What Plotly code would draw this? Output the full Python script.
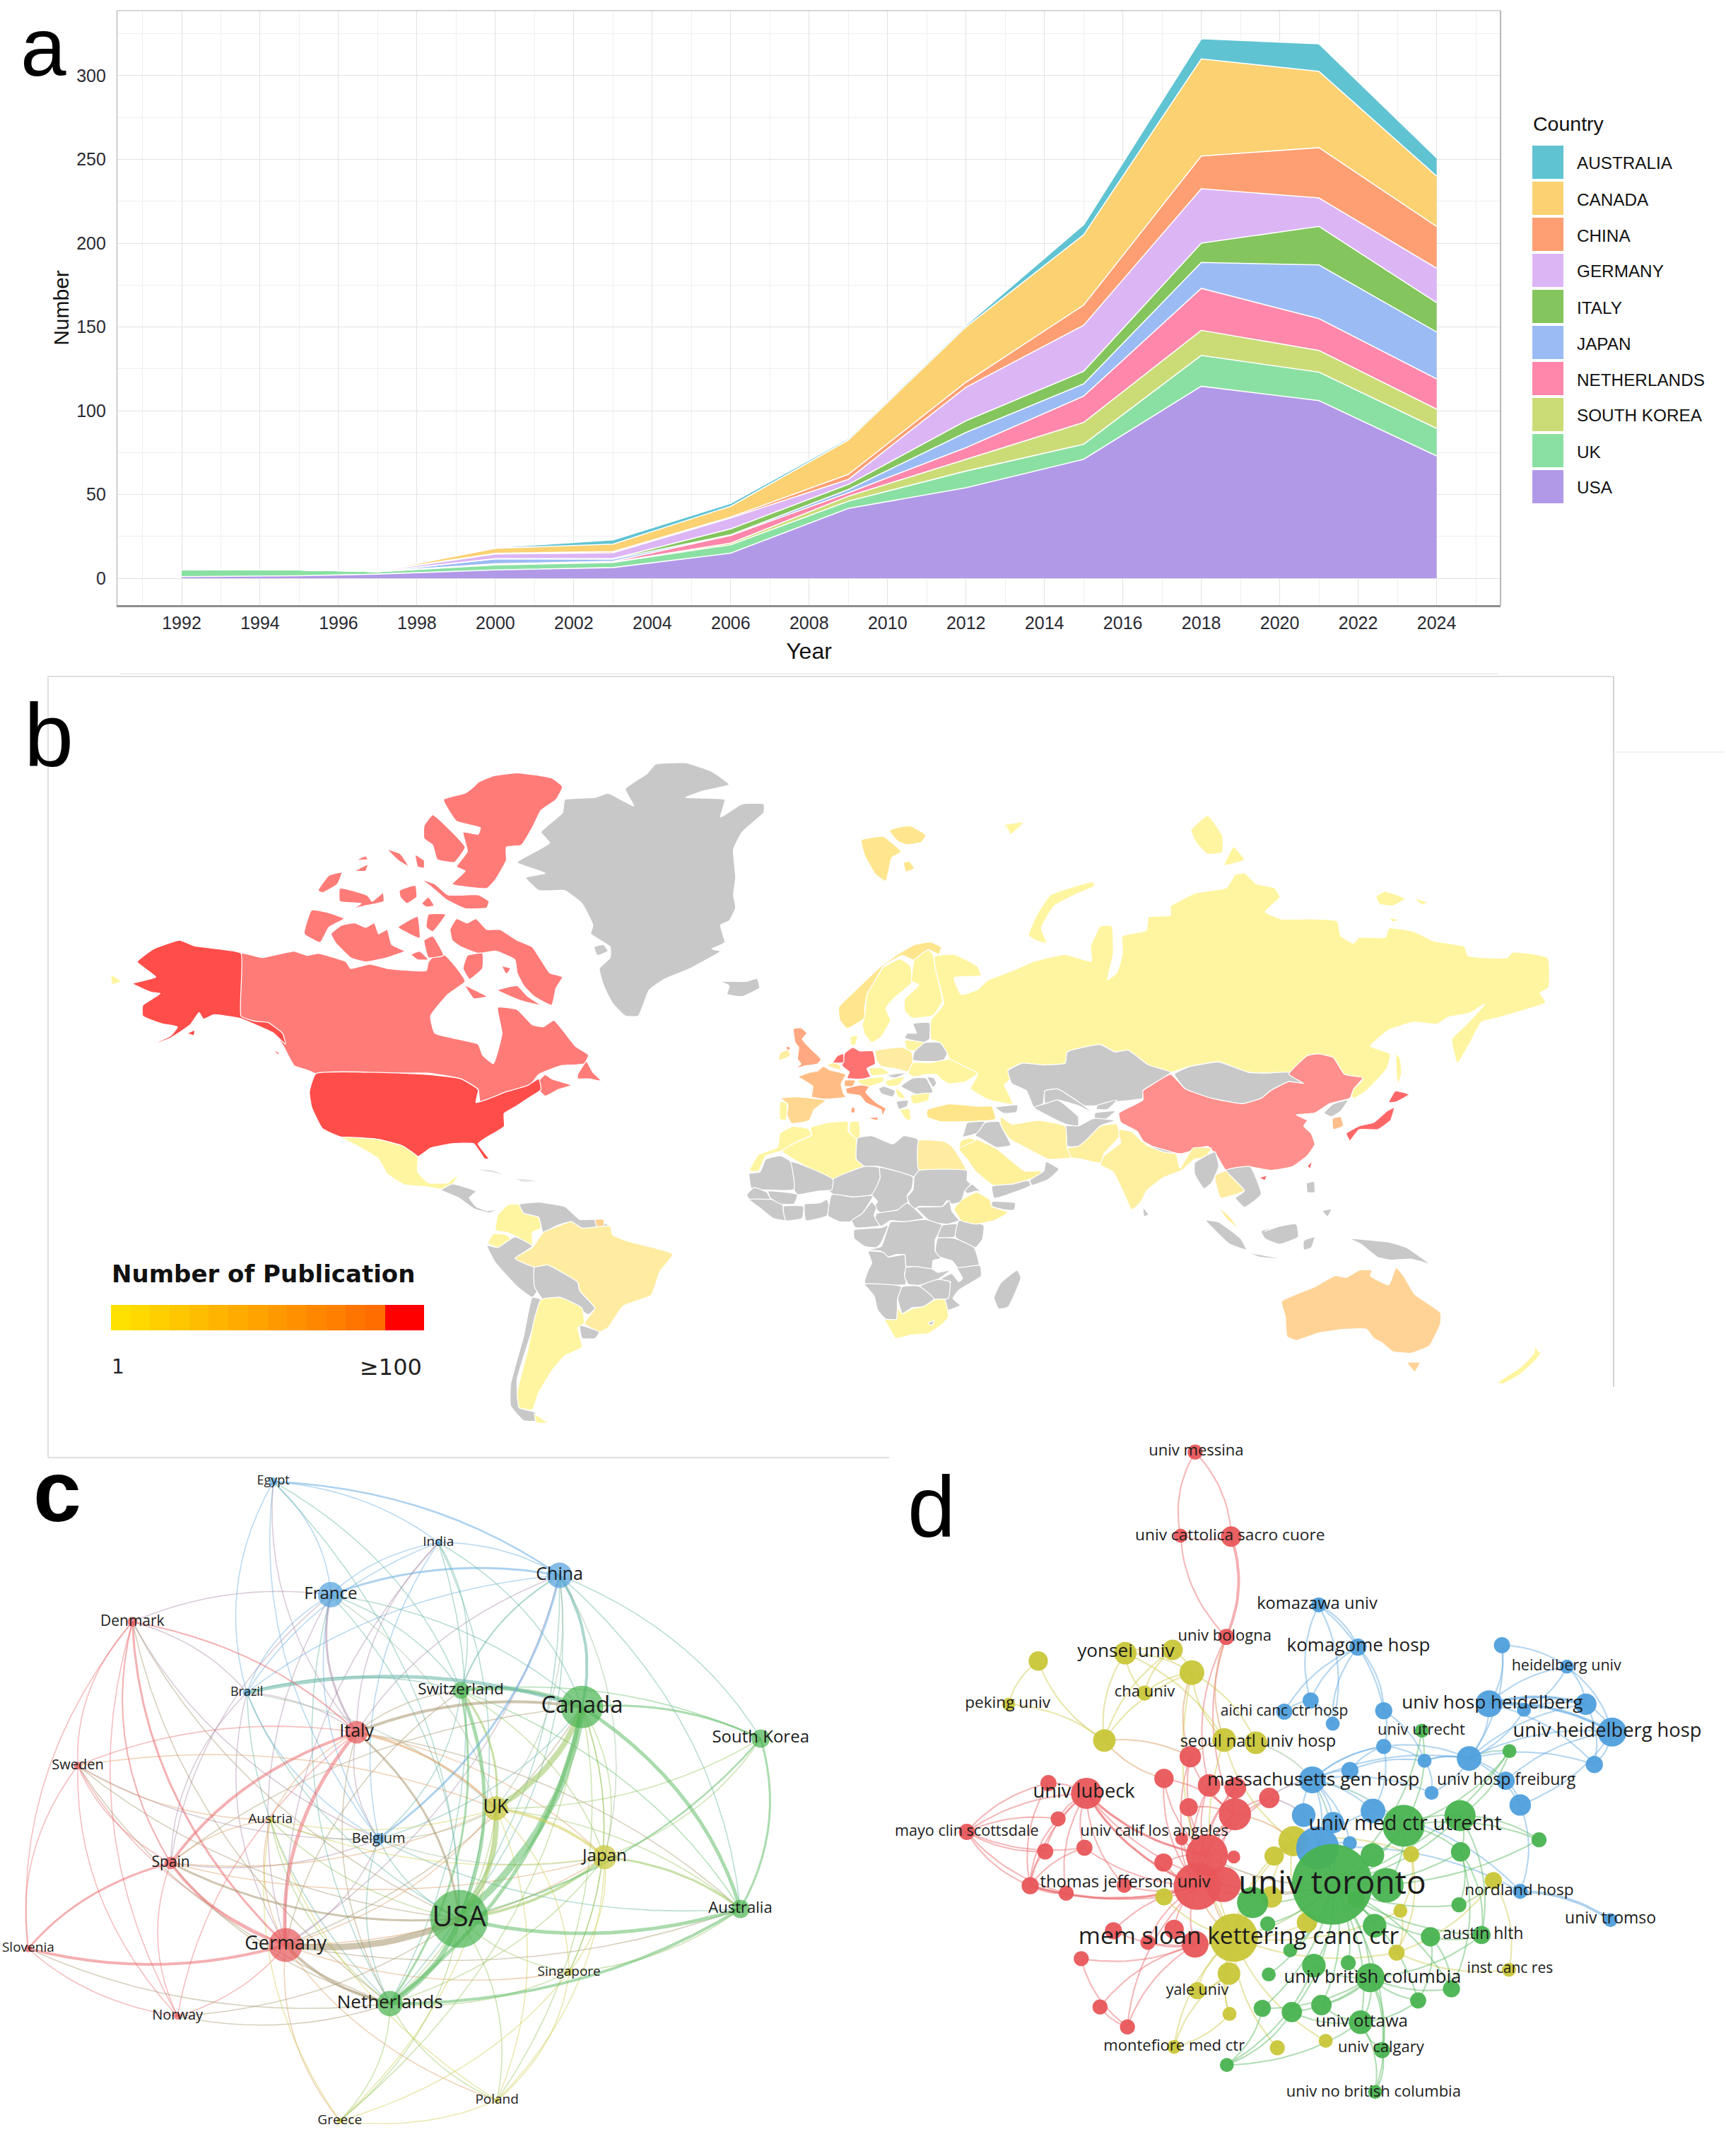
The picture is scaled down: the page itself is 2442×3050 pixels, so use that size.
import numpy as np
import plotly.graph_objects as go

W, H = 2442, 3050

# ---- panel a data
years = [1992, 1995, 1997, 2000, 2003, 2006, 2009, 2012, 2015, 2018, 2021, 2024]
usa = [1, 1.5, 2.5, 5, 6.4, 15, 41.7, 54, 71, 114.6, 106, 73]
uk = [4, 3.5, 1.5, 3, 3, 5, 4.3, 10, 9, 18.4, 17, 16.5]
south_korea = [0, 0, 0, 0.3, 0.2, 1, 3, 7, 13, 15, 13, 11.5]
netherlands = [0, 0, 0, 0.4, 0.5, 4.6, 2, 7, 15.7, 25, 19, 18]
japan = [0, 0, 0, 3, 1.3, 0.4, 2, 9, 7.3, 15.5, 32, 28]
italy = [0, 0, 0, 0, 0.3, 3.5, 3, 7, 7.5, 11.5, 23, 17.5]
germany = [0, 0, 0.3, 2.8, 3.5, 6.5, 3, 20, 27.5, 32.5, 17, 20.5]
china = [0, 0, 0, 0.4, 0.7, 0.5, 3, 3, 12, 19.5, 30, 25]
canada = [0, 0, 0, 3, 4.5, 6.5, 20.5, 33, 42, 58, 45.5, 30]
australia = [0, 0, 0, 0.4, 2.5, 1.7, 0.9, 1, 6, 12, 16.5, 11]
area_series = [("USA", usa, "#b199e8"), ("UK", uk, "#8ae0a2"), ("SOUTH KOREA", south_korea, "#cbdc76"),
               ("NETHERLANDS", netherlands, "#fe87ab"), ("JAPAN", japan, "#9bbbf4"), ("ITALY", italy, "#84c55e"),
               ("GERMANY", germany, "#dcb5f5"), ("CHINA", china, "#fd9f72"), ("CANADA", canada, "#fbd171"),
               ("AUSTRALIA", australia, "#60c3d2")]

C_US, C_CA, C_GR, C_PALE = "#ff4d4a", "#ff7b78", "#c8c8c8", "#fff5a0"
C_YEL, C_CN, C_AU, C_JP = "#ffeca0", "#ff8f8c", "#ffd396", "#ff6668"
AMER = (150, 1070, 960 / 1568)
EURO = (1050, 1150, 1 / 3)
AFRI = (1040, 1500, 1 / 3)
ASIA = (1400, 1130, 820 / 1568)
FULL = (0, 0, 1)
map_shapes = [
    # Americas
    (C_GR, AMER, [(1200,75),(1250,40),(1270,18),(1340,15),(1400,35),(1440,65),(1380,80),(1340,95),(1430,100),(1420,140),(1470,110),(1520,110),(1520,130),(1470,175),(1450,215),(1455,280),(1450,320),(1455,350),(1440,380),(1420,390),(1430,430),(1400,445),(1420,450),(1350,490),(1290,515),(1255,540),(1230,600),(1200,600),(1170,570),(1150,530),(1140,490),(1165,465),(1165,440),(1120,410),(1125,390),(1100,340),(1060,310),(1000,310),(970,280),(1015,270),(950,245),(1025,200),(1005,175),(1055,130),(1060,100),(1130,95),(1160,85),(1190,100),(1220,115)]),
    (C_GR, AMER, [(1420,520),(1450,520),(1480,520),(1505,513),(1510,535),(1470,555),(1435,550),(1440,530)]),
    (C_GR, AMER, [(1128,440),(1150,435),(1160,450),(1135,460)]),
    (C_CA, AMER, [(312,455),(360,465),(435,450),(465,460),(490,455),(555,475),(565,490),(610,480),(650,490),(740,495),(745,475),(770,450),(790,465),(815,495),(830,520),(790,550),(750,600),(760,640),(860,665),(870,690),(895,710),(915,640),(905,580),(950,585),(985,620),(1010,625),(1035,610),(1085,670),(1115,690),(1105,710),(1050,715),(1000,735),(975,765),(925,775),(865,800),(860,770),(820,745),(745,732),(485,733),(465,725),(435,715),(410,670),(375,620),(345,612),(312,603)]),
    (C_US, AMER, [(312,455),(260,445),(205,438),(170,425),(110,445),(72,475),(115,510),(62,525),(105,545),(125,548),(85,575),(85,600),(130,618),(165,625),(150,645),(92,672),(150,650),(195,620),(215,592),(225,607),(250,597),(312,606),(350,622),(385,638),(415,665),(408,640),(375,615),(345,612),(312,600)]),
    (C_US, AMER, [(188,640),(205,633),(203,645)]),
    (C_CA, AMER, [(1000,750),(1015,735),(1030,745),(1075,760),(1045,770),(1015,785),(1000,770)]),
    (C_CA, AMER, [(1090,735),(1110,705),(1125,730),(1145,750),(1115,745),(1090,745)]),
    (C_CA, AMER, [(388,680),(398,683),(400,692)]),
    (C_CA, AMER, [(795,400),(810,375),(835,385),(855,375),(880,400),(910,400),(950,425),(985,440),(1005,470),(1025,500),(1055,510),(1040,535),(1030,575),(990,555),(965,530),(950,500),(945,470),(900,450),(860,455),(820,440),(800,425)]),
    (C_CA, AMER, [(835,460),(870,455),(870,490),(840,515),(825,490)]),
    (C_CA, AMER, [(830,530),(880,555),(850,560)]),
    (C_CA, AMER, [(915,485),(935,490),(925,503)]),
    (C_CA, AMER, [(905,540),(950,530),(975,555),(1005,575),(960,565)]),
    (C_CA, AMER, [(860,60),(895,45),(950,38),(1030,50),(1055,70),(1040,100),(1005,125),(985,165),(960,205),(925,210),(925,240),(900,285),(880,305),(800,295),(830,265),(810,255),(835,220),(825,175),(860,180),(865,165),(810,150),(780,100),(830,85),(850,70)]),
    (C_CA, AMER, [(755,135),(790,165),(830,210),(805,245),(765,238),(755,205),(735,190),(735,160)]),
    (C_CA, AMER, [(650,215),(680,225),(700,255),(675,240)]),
    (C_CA, AMER, [(715,228),(735,240),(735,258),(720,255)]),
    (C_CA, AMER, [(578,240),(600,230),(605,238),(585,240)]),
    (C_CA, AMER, [(575,265),(605,250),(600,265)]),
    (C_CA, AMER, [(490,310),(515,275),(545,268),(535,295),(500,315)]),
    (C_CA, AMER, [(540,305),(570,310),(605,322),(615,335),(640,315),(642,335),(600,345),(570,352),(590,340),(540,335)]),
    (C_CA, AMER, [(678,310),(715,298),(718,325),(695,340),(680,325)]),
    (C_CA, AMER, [(730,285),(760,295),(790,320),(860,320),(885,335),(880,350),(830,352),(785,330),(750,300)]),
    (C_CA, AMER, [(730,340),(745,325),(758,345),(740,348)]),
    (C_CA, AMER, [(458,410),(475,355),(510,360),(550,375),(515,395),(495,430)]),
    (C_CA, AMER, [(520,410),(545,390),(575,385),(600,395),(620,385),(630,410),(650,400),(660,435),(690,450),(650,465),(600,475),(565,465),(530,430)]),
    (C_CA, AMER, [(675,395),(720,370),(725,420),(700,410)]),
    (C_CA, AMER, [(745,365),(785,365),(755,405),(740,395)]),
    (C_CA, AMER, [(735,425),(755,415),(780,460),(745,465)]),
    (C_CA, AMER, [(705,458),(725,450),(745,470),(720,470)]),
    (C_US, AMER, [(485,733),(745,735),(820,745),(860,770),(855,800),(925,775),(975,760),(1000,745),(1005,770),(975,790),(945,810),(920,825),(920,855),(880,880),(860,895),(885,930),(875,930),(850,895),(800,895),(750,905),(720,925),(685,900),(630,885),(545,880),(500,860),(475,810),(470,775)]),
    (C_PALE, AMER, [(545,880),(630,885),(685,900),(720,925),(720,960),(745,985),(790,985),(815,965),(800,990),(775,1000),(745,995),(690,990),(650,965),(630,930),(590,905)]),
    (C_PALE, AMER, [(12,505),(35,520),(14,527)]),
    (C_GR, AMER, [(775,1002),(800,988),(855,1005),(840,1020),(855,1040),(880,1050),(910,1045),(885,1055),(850,1045),(815,1020)]),
    ("#e2e2e2", AMER, [(850,953),(890,955),(925,968),(880,960)]),
    ("#e2e2e2", AMER, [(945,975),(975,977),(1000,982),(960,983)]),
    (C_PALE, AMER, [(905,1060),(930,1035),(955,1035),(965,1055),(1000,1065),(1005,1090),(985,1100),(985,1130),(950,1110),(925,1100),(900,1095)]),
    (C_PALE, AMER, [(882,1125),(895,1103),(925,1105),(935,1115),(905,1135)]),
    (C_GR, AMER, [(955,1035),(1000,1030),(1060,1040),(1095,1070),(1130,1070),(1165,1085),(1140,1090),(1100,1090),(1075,1075),(1040,1085),(1010,1100),(1000,1065),(965,1055)]),
    ("#ffcf90", AMER, [(1130,1070),(1150,1070),(1150,1087),(1135,1087)]),
    (C_GR, AMER, [(880,1130),(905,1135),(945,1110),(985,1132),(945,1160),(990,1180),(1000,1230),(985,1250),(950,1225),(900,1170)]),
    (C_GR, AMER, [(990,1180),(1020,1175),(1090,1215),(1095,1235),(1130,1275),(1115,1290),(1090,1275),(1050,1250),(1010,1255),(990,1225)]),
    (C_YEL, AMER, [(985,1135),(1010,1100),(1045,1085),(1075,1075),(1100,1090),(1165,1085),(1170,1105),(1205,1120),(1310,1150),(1280,1190),(1260,1245),(1195,1270),(1160,1320),(1140,1330),(1105,1310),(1130,1275),(1095,1235),(1090,1215),(1020,1175),(990,1180),(945,1160)]),
    (C_GR, AMER, [(985,1250),(965,1340),(935,1450),(935,1500),(965,1535),(1000,1535),(990,1515),(955,1505),(950,1440),(980,1340),(1005,1255)]),
    (C_PALE, AMER, [(1005,1255),(1050,1250),(1100,1275),(1105,1310),(1090,1320),(1100,1365),(1060,1385),(1030,1420),(1000,1470),(985,1510),(955,1505),(950,1470),(975,1370),(990,1300)]),
    (C_GR, AMER, [(1095,1315),(1140,1330),(1130,1345),(1100,1345)]),
    (C_PALE, AMER, [(990,1520),(1020,1540),(995,1540)]),
    # Russia
    (C_PALE, FULL, [(1322,1353),(1350,1350),(1383,1367),(1388,1380),(1350,1383),(1360,1407),(1383,1400),(1397,1387),(1433,1373),(1463,1360),(1507,1350),(1544,1360),(1543,1339),(1557,1310),(1573,1310),(1575,1350),(1567,1386),(1580,1376),(1588,1350),(1588,1324),(1622,1316),(1625,1297),(1656,1295),(1656,1282),(1693,1263),(1735,1256),(1748,1237),(1761,1235),(1777,1250),(1803,1256),(1811,1269),(1790,1290),(1813,1300),(1860,1300),(1892,1303),(1897,1324),(1915,1334),(1923,1326),(1960,1326),(1965,1313),(2001,1318),(2028,1331),(2072,1339),(2077,1352),(2132,1355),(2140,1347),(2190,1355),(2191,1397),(2179,1405),(2187,1418),(2122,1439),(2096,1446),(2080,1475),(2062,1504),(2054,1470),(2075,1449),(2101,1420),(2080,1433),(2049,1439),(2033,1449),(2001,1446),(1965,1457),(1939,1480),(1967,1491),(1962,1512),(1933,1543),(1915,1554),(1910,1546),(1928,1527),(1902,1520),(1886,1496),(1865,1491),(1850,1493),(1824,1517),(1792,1518),(1766,1517),(1724,1502),(1682,1509),(1656,1517),(1625,1507),(1596,1486),(1578,1488),(1557,1478),(1510,1488),(1507,1504),(1476,1507),(1447,1504),(1426,1514),(1431,1525),(1421,1535),(1431,1554),(1427,1547),(1433,1562),(1397,1555),(1373,1540),(1383,1520),(1363,1508),(1343,1498),(1340,1490),(1330,1475),(1317,1470),(1317,1443),(1335,1420),(1323,1370)]),
    # Asia
    (C_PALE, ASIA, [(105,370),(130,310),(165,260),(220,240),(280,225),(285,235),(230,260),(175,290),(140,350),(155,390),(130,385)]),
    (C_PALE, ASIA, [(545,85),(590,45),(630,100),(630,145),(590,150),(560,120)]),
    (C_PALE, ASIA, [(635,180),(660,130),(690,165)]),
    (C_PALE, ASIA, [(1045,265),(1070,250),(1125,270),(1090,290),(1055,285)]),
    (C_PALE, ASIA, [(1150,270),(1185,280),(1170,287)]),
    (C_PALE, ASIA, [(1080,322),(1110,328),(1090,332)]),
    (C_PALE, ASIA, [(1100,690),(1110,700),(1115,740),(1105,775),(1100,730)]),
    (C_PALE, ASIA, [(40,70),(90,65),(55,95)]),
    (C_GR, ASIA, [(50,735),(90,715),(145,720),(205,715),(210,685),(300,665),(340,685),(375,680),(430,720),(490,740),(445,770),(415,790),(415,810),(340,820),(290,830),(255,830),(185,785),(150,790),(145,825),(120,835),(100,790),(60,770)]),
    (C_GR, ASIA, [(150,790),(185,785),(255,830),(280,850),(240,830),(185,815),(150,825)]),
    (C_GR, ASIA, [(290,830),(345,815),(320,840),(290,840)]),
    (C_GR, ASIA, [(285,850),(340,845),(310,870),(285,870)]),
    (C_GR, ASIA, [(120,835),(150,825),(185,815),(240,860),(240,885),(205,880)]),
    (C_GR, ASIA, [(205,885),(240,885),(280,865),(340,870),(300,885),(265,920),(240,940),(210,940)]),
    (C_GR, ASIA, [(500,745),(540,725),(620,712),(700,740),(750,742),(810,740),(850,770),(810,765),(760,790),(735,810),(685,825),(600,810),(530,785)]),
    (C_CN, ASIA, [(350,850),(415,815),(415,790),(445,770),(490,745),(530,785),(600,810),(685,825),(735,810),(760,790),(810,765),(850,770),(810,745),(860,695),(890,690),(930,700),(960,745),(1010,755),(985,785),(975,810),(920,825),(880,850),(830,855),(860,870),(850,885),(870,905),(880,935),(860,965),(820,995),(760,1005),(700,995),(640,1005),(615,965),(590,940),(520,960),(470,955),(415,925),(400,900),(355,875)]),
    (C_JP, ASIA, [(860,995),(872,980),(868,1000)]),
    (C_JP, ASIA, [(730,1025),(750,1020),(745,1032)]),
    (C_GR, ASIA, [(905,850),(930,825),(970,815),(950,845),(925,860)]),
    ("#ffbe8a", ASIA, [(928,865),(950,860),(957,885),(930,895)]),
    (C_JP, ASIA, [(965,905),(1000,885),(1040,875),(1075,845),(1095,835),(1085,870),(1050,895),(1000,895),(975,925)]),
    (C_JP, ASIA, [(1098,790),(1135,800),(1100,820),(1080,822)]),
    ("#fff0a0", ASIA, [(345,895),(385,900),(410,925),(470,955),(505,960),(515,1000),(550,945),(600,945),(585,970),(555,975),(520,1005),(470,1025),(425,1060),(410,1090),(385,1112),(360,1060),(335,1010),(300,990),(310,965),(355,930)]),
    ("#fff0a0", ASIA, [(210,945),(240,940),(265,920),(300,885),(345,880),(350,915),(310,960),(300,985),(250,975),(215,970)]),
    ("#fff0a0", ASIA, [(30,860),(60,880),(130,870),(205,885),(210,945),(220,970),(160,975),(100,945),(55,920),(30,885)]),
    (C_GR, ASIA, [(420,935),(510,960),(470,955)]),
    (C_GR, ASIA, [(555,985),(610,955),(620,995),(600,1040),(580,1055),(555,1015)]),
    (C_YEL, ASIA, [(610,1020),(645,1005),(690,1060),(650,1075),(625,1080)]),
    (C_GR, ASIA, [(640,1005),(705,995),(735,1070),(690,1105),(665,1080),(690,1060)]),
    (C_YEL, ASIA, [(620,1105),(650,1130),(675,1165),(640,1135)]),
    (C_GR, ASIA, [(735,1170),(830,1150),(835,1185),(785,1205),(745,1190)]),
    (C_YEL, ASIA, [(745,1170),(800,1150),(835,1130),(810,1145)]),
    (C_GR, ASIA, [(585,1140),(620,1145),(680,1190),(695,1220),(650,1205)]),
    (C_GR, ASIA, [(700,1228),(795,1245),(730,1240)]),
    (C_GR, ASIA, [(850,1195),(880,1185),(870,1215),(850,1220)]),
    (C_GR, ASIA, [(975,1190),(1085,1200),(1130,1215),(1190,1258),(1140,1245),(1085,1248),(1050,1240),(1005,1205)]),
    (C_GR, ASIA, [(858,1040),(878,1035),(880,1065),(860,1065)]),
    (C_GR, ASIA, [(900,1115),(925,1110),(915,1130)]),
    (C_GR, ASIA, [(415,1105),(430,1125),(418,1130)]),
    (C_GR, ASIA, [(12,1350),(30,1310),(75,1275),(85,1295),(50,1375),(25,1380)]),
    (C_AU, ASIA, [(790,1360),(880,1320),(935,1290),(965,1295),(1000,1275),(1035,1275),(1030,1290),(1080,1315),(1100,1268),(1120,1290),(1150,1340),(1220,1390),(1220,1420),(1190,1480),(1140,1500),(1090,1495),(1060,1470),(1040,1460),(1020,1435),(960,1435),(890,1445),(830,1465),(805,1455),(800,1400)]),
    (C_AU, ASIA, [(1130,1525),(1165,1525),(1150,1550)]),
    (C_PALE, FULL, [(2119,1956),(2150,1935),(2170,1915),(2172,1905),(2178,1913),(2182,1912),(2172,1925),(2150,1945),(2125,1958)]),
    # Europe
    ("#ffe68e", EURO, [(505,115),(545,105),(600,100),(675,165),(635,190),(610,290),(565,260),(520,180)]),
    ("#ffe68e", EURO, [(625,75),(665,60),(715,55),(780,95),(760,125),(700,135),(660,120)]),
    ("#ffe68e", EURO, [(685,210),(710,205),(730,235),(695,250)]),
    ("#ffe68e", EURO, [(410,825),(500,735),(590,650),(660,600),(730,560),(800,548),(845,570),(835,600),(790,580),(760,600),(730,625),(680,605),(600,650),(560,720),(530,770),(520,830),(520,870),(445,915),(415,880)]),
    (C_PALE, EURO, [(530,770),(565,710),(600,655),(670,620),(715,650),(720,720),(640,790),(610,830),(630,880),(590,950),(550,975),(520,940),(510,900),(520,860)]),
    (C_PALE, EURO, [(730,625),(760,600),(790,580),(810,600),(820,660),(850,800),(810,860),(720,870),(690,840),(690,790),(750,730),(720,715)]),
    (C_PALE, EURO, [(460,950),(490,945),(480,985),(462,985)]),
    (C_GR, EURO, [(725,895),(795,890),(795,960),(770,975),(690,955),(700,935),(740,935)]),
    (C_PALE, EURO, [(690,965),(770,975),(740,1010),(700,1005)]),
    (C_GR, EURO, [(775,975),(840,975),(870,1020),(855,1050),(800,1055),(725,1050),(730,1015)]),
    (C_YEL, EURO, [(565,1010),(680,995),(720,1015),(725,1065),(715,1100),(650,1085),(590,1075),(570,1050)]),
    ("#ff7272", EURO, [(470,995),(500,1010),(555,1010),(565,1065),(530,1085),(545,1120),(505,1130),(445,1125),(455,1100),(425,1075),(435,1020)]),
    ("#ff6b69", EURO, [(385,1060),(405,1030),(430,1022),(430,1060)]),
    (C_YEL, EURO, [(360,1070),(385,1060),(415,1070),(420,1090),(390,1085)]),
    ("#ffa881", EURO, [(218,915),(250,912),(275,935),(255,960),(290,1000),(335,1045),(320,1065),(260,1075),(225,1085),(250,1065),(235,1045),(240,995),(225,975)]),
    (C_YEL, EURO, [(160,1020),(195,1005),(205,1030),(175,1045),(155,1050)]),
    ("#ffa881", EURO, [(188,990),(205,995),(200,1008),(188,1003)]),
    ("#ffbd85", EURO, [(345,1075),(370,1090),(440,1110),(420,1150),(430,1190),(440,1205),(355,1215),(295,1205),(300,1160),(240,1120),(290,1100),(320,1095)]),
    ("#ffb880", EURO, [(435,1135),(480,1135),(470,1160),(435,1160)]),
    ("#ffa57d", EURO, [(440,1170),(500,1155),(545,1155),(525,1185),(570,1230),(610,1255),(595,1285),(590,1260),(525,1230),(500,1200),(445,1190)]),
    ("#ffa57d", EURO, [(535,1295),(575,1290),(575,1305)]),
    ("#ffa57d", EURO, [(465,1250),(478,1250),(478,1272),(462,1272)]),
    ("#ffd790", EURO, [(165,1210),(230,1205),(355,1220),(305,1260),(285,1305),(210,1318),(190,1280),(195,1240)]),
    (C_PALE, EURO, [(162,1225),(190,1230),(185,1305),(160,1300)]),
    (C_PALE, EURO, [(540,1085),(590,1080),(625,1105),(550,1115)]),
    (C_PALE, EURO, [(490,1135),(545,1125),(600,1120),(600,1140),(540,1160),(500,1150)]),
    (C_GR, EURO, [(615,1115),(660,1105),(695,1105),(650,1125)]),
    (C_PALE, EURO, [(605,1140),(650,1125),(690,1120),(665,1155),(620,1160)]),
    (C_PALE, EURO, [(725,1060),(800,1060),(880,1045),(940,1075),(1000,1105),(950,1140),(880,1150),(850,1135),(825,1110),(780,1110),(725,1120),(705,1105)]),
    (C_GR, EURO, [(675,1160),(725,1125),(780,1125),(810,1185),(740,1195)]),
    (C_GR, EURO, [(785,1120),(815,1125),(825,1150),(810,1165)]),
    (C_GR, EURO, [(580,1170),(600,1160),(650,1180),(640,1205),(590,1190)]),
    (C_PALE, EURO, [(650,1165),(680,1190),(695,1215),(660,1205)]),
    (C_PALE, EURO, [(715,1200),(795,1190),(790,1220),(725,1235)]),
    (C_GR, EURO, [(655,1225),(705,1220),(700,1245),(665,1258)]),
    (C_PALE, EURO, [(670,1260),(710,1255),(715,1305),(695,1300)]),
    ("#ffe58a", EURO, [(785,1260),(880,1235),(1000,1245),(1060,1245),(1075,1300),(950,1310),(840,1310),(785,1290)]),
    (C_PALE, EURO, [(1120,50),(1195,40),(1140,90)]),
    # Africa and Middle East
    (C_PALE, AFRI, [(185,350),(190,310),(245,280),(310,290),(325,315),(265,345),(195,385),(130,405),(100,470),(60,470),(100,400),(180,370)]),
    (C_PALE, AFRI, [(320,285),(390,265),(480,260),(480,300),(515,335),(515,420),(550,450),(415,505),(200,385),(265,345),(325,318)]),
    (C_PALE, AFRI, [(490,260),(525,260),(530,325),(515,335),(485,300)]),
    (C_GR, AFRI, [(520,330),(580,320),(670,355),(715,320),(775,335),(775,495),(605,450),(550,450),(515,420)]),
    (C_YEL, AFRI, [(780,340),(890,345),(920,365),(980,465),(780,465)]),
    (C_GR, AFRI, [(780,468),(985,468),(985,510),(1000,525),(975,555),(960,600),(920,610),(900,595),(880,620),(780,620),(755,635),(730,580),(755,550),(760,495)]),
    (C_GR, AFRI, [(610,455),(755,495),(750,545),(730,575),(735,610),(690,635),(620,650),(590,620),(605,600),(580,570),(615,500)]),
    (C_GR, AFRI, [(415,505),(550,450),(610,455),(615,500),(580,570),(500,580),(420,570),(400,555)]),
    (C_GR, AFRI, [(235,430),(415,505),(410,550),(355,555),(265,570),(250,550),(250,545)]),
    (C_GR, AFRI, [(60,480),(105,475),(130,420),(195,405),(235,430),(250,548),(135,550),(70,545)]),
    (C_GR, AFRI, [(50,570),(80,540),(135,560),(150,590),(60,590)]),
    (C_GR, AFRI, [(60,590),(150,590),(200,590),(205,640),(215,680),(160,670),(110,630)]),
    (C_GR, AFRI, [(140,555),(265,570),(250,610),(195,610),(150,585)]),
    (C_GR, AFRI, [(205,620),(290,620),(285,670),(215,680)]),
    (C_GR, AFRI, [(295,610),(360,605),(390,590),(400,620),(390,660),(300,680)]),
    (C_GR, AFRI, [(410,570),(500,580),(585,575),(540,650),(490,685),(445,685),(395,660)]),
    (C_GR, AFRI, [(580,600),(600,625),(590,660),(625,700),(510,710),(495,680),(540,650)]),
    (C_GR, AFRI, [(600,650),(690,635),(730,605),(800,670),(720,685),(660,680),(620,705),(595,670)]),
    (C_GR, AFRI, [(770,625),(880,620),(910,595),(920,640),(950,680),(900,695),(830,685)]),
    (C_GR, AFRI, [(505,720),(620,710),(650,700),(620,775),(600,795),(550,790),(505,755)]),
    (C_GR, AFRI, [(660,685),(720,685),(805,675),(880,700),(850,760),(850,810),(875,840),(840,850),(835,885),(760,875),(725,875),(720,825),(680,825),(645,835),(620,810),(560,805),(620,790)]),
    (C_GR, AFRI, [(880,700),(945,695),(930,750),(860,750)]),
    (C_GR, AFRI, [(950,680),(1055,700),(1050,760),(1020,795),(935,750)]),
    (C_GR, AFRI, [(860,755),(930,755),(1015,795),(1035,870),(945,880),(920,850),(870,835),(850,810)]),
    (C_GR, AFRI, [(1090,600),(1190,605),(1185,635),(1150,635),(1090,620)]),
    ("#fff09a", AFRI, [(930,630),(965,590),(1025,560),(1080,590),(1090,620),(1160,645),(1100,680),(1020,695),(960,680)]),
    (C_GR, AFRI, [(975,555),(1005,525),(1045,560),(1025,555),(985,565)]),
    (C_GR, AFRI, [(565,810),(630,815),(650,835),(720,825),(725,875),(760,875),(720,900),(725,950),(550,945),(565,890),(580,860)]),
    (C_GR, AFRI, [(725,880),(760,875),(835,885),(860,900),(915,890),(860,930),(780,955),(735,950),(720,920)]),
    (C_GR, AFRI, [(925,855),(945,880),(1040,870),(1045,915),(1000,945),(950,975),(925,1010),(955,1040),(900,1060),(890,1010),(915,940),(870,930),(920,905),(950,940),(965,925)]),
    (C_GR, AFRI, [(785,958),(860,930),(912,940),(905,1010),(850,1015)]),
    (C_GR, AFRI, [(710,960),(780,958),(845,1012),(800,1045),(750,1050),(710,1075),(690,1010)]),
    (C_GR, AFRI, [(550,950),(705,960),(690,1010),(685,1100),(640,1098),(605,1060),(590,1000)]),
    (C_PALE, AFRI, [(635,1100),(685,1100),(690,1050),(710,1075),(750,1055),(800,1045),(850,1015),(890,1015),(905,1090),(880,1120),(820,1160),(750,1165),(680,1180),(660,1145)]),
    (C_GR, AFRI, [(820,1115),(845,1105),(835,1125)]),
    ("#fff09a", AFRI, [(950,375),(1020,335),(1110,375),(1165,420),(1230,470),(1300,470),(1300,490),(1250,505),(1180,525),(1095,530),(1020,470),(985,420)]),
    (C_GR, AFRI, [(1250,510),(1310,470),(1320,430),(1375,462),(1330,505),(1260,530)]),
    (C_GR, AFRI, [(1090,535),(1180,525),(1245,510),(1255,530),(1100,585)]),
    (C_GR, AFRI, [(1020,320),(1060,265),(1120,260),(1135,290),(1170,360),(1110,370),(1040,330)]),
    (C_GR, AFRI, [(970,310),(985,265),(1060,260),(1025,310),(965,325)]),
    ("#fff09a", AFRI, [(960,340),(1000,330),(1020,340),(950,370)]),
    (C_GR, AFRI, [(1105,200),(1200,190),(1195,220),(1140,225)]),
]
legend_values = [1, 7, 14, 20, 27, 33, 40, 46, 53, 59, 66, 72, 79, 85, 92, 100]

# ---- panel c data (map coordinates)
RED, GREEN, BLUE, YELLOW = "#e8565a", "#49b350", "#4f9fdc", "#c9c638"
c_names = ["Egypt", "India", "China", "France", "Denmark", "Brazil", "Switzerland", "Canada", "South Korea", "Italy",
           "Sweden", "Austria", "Belgium", "UK", "Japan", "Spain", "Slovenia", "Germany", "USA", "Australia",
           "Singapore", "Netherlands", "Norway", "Greece", "Poland"]
c_x = [485, 778, 993, 587, 235, 438, 818, 1033, 1350, 633, 138, 480, 672, 880, 1073, 303, 50, 507, 815, 1314, 1010, 692, 315, 603, 882]
c_y = [72, 207, 280, 323, 383, 540, 535, 572, 642, 628, 702, 822, 865, 797, 905, 918, 1108, 1100, 1042, 1020, 1160, 1230, 1258, 1490, 1445]
c_size = [12, 8, 36, 36, 14, 11, 24, 60, 26, 32, 11, 8, 17, 34, 34, 18, 10, 48, 82, 26, 11, 36, 10, 9, 7]
c_cluster = [BLUE, BLUE, BLUE, BLUE, RED, BLUE, GREEN, GREEN, GREEN, RED, RED, YELLOW, BLUE, YELLOW, YELLOW, RED, RED, RED,
             GREEN, GREEN, YELLOW, GREEN, RED, YELLOW, YELLOW]
c_font = [18, 19, 25, 24, 21, 18, 22.5, 33, 24, 25, 20, 19, 20, 27, 24, 21, 19, 27, 40, 22, 19, 26, 20, 19, 19]
c_strong = [("USA", "Canada", 10), ("USA", "UK", 7), ("UK", "Canada", 8), ("USA", "Netherlands", 7), ("USA", "Germany", 9),
            ("Germany", "Italy", 5), ("Germany", "Spain", 4), ("Germany", "Slovenia", 4), ("Spain", "Slovenia", 3),
            ("Spain", "Italy", 4), ("Canada", "Switzerland", 5), ("Canada", "Netherlands", 5), ("Canada", "Australia", 5),
            ("USA", "Australia", 5), ("USA", "Japan", 4), ("Canada", "China", 4), ("Canada", "Brazil", 5), ("USA", "Switzerland", 5),
            ("Netherlands", "Australia", 4), ("Japan", "UK", 4), ("Japan", "Australia", 3), ("Germany", "Netherlands", 4),
            ("Italy", "UK", 3), ("Italy", "Canada", 4), ("Italy", "Denmark", 2), ("Germany", "Denmark", 3), ("Denmark", "Spain", 2),
            ("Italy", "France", 3), ("China", "France", 3), ("China", "Switzerland", 2), ("China", "Belgium", 3),
            ("South Korea", "Canada", 3), ("South Korea", "Australia", 3), ("South Korea", "USA", 2.5), ("Switzerland", "UK", 3),
            ("Switzerland", "Netherlands", 3), ("USA", "Italy", 3), ("Spain", "USA", 3), ("Egypt", "China", 2.5)]
c_thin = [("Egypt", ["India", "France", "Italy", "Brazil", "Belgium", "Switzerland", "USA"]),
          ("India", ["China", "France", "Brazil", "Belgium", "Italy", "Switzerland", "USA", "Canada", "Germany", "Netherlands"]),
          ("China", ["Brazil", "Italy", "UK", "USA", "Netherlands", "Australia", "Germany", "Japan", "South Korea"]),
          ("France", ["Brazil", "Belgium", "Switzerland", "USA", "Canada", "Netherlands", "Denmark", "Germany", "Spain", "UK"]),
          ("Denmark", ["Sweden", "Slovenia", "Brazil", "Belgium", "Norway", "USA", "Netherlands"]),
          ("Brazil", ["Italy", "Belgium", "Switzerland", "USA", "Germany", "Spain", "Netherlands", "UK"]),
          ("Sweden", ["Italy", "Slovenia", "Spain", "Germany", "Norway", "Netherlands", "Belgium", "USA", "Austria", "UK"]),
          ("Switzerland", ["Italy", "Belgium", "Germany", "Japan", "Australia", "South Korea"]),
          ("Italy", ["Belgium", "Japan", "Netherlands", "Norway", "Austria", "Australia"]),
          ("Austria", ["Spain", "Germany", "USA", "UK", "Belgium", "Greece", "Japan", "Netherlands", "Poland"]),
          ("Belgium", ["UK", "Japan", "USA", "Netherlands", "Germany", "Spain", "Australia"]),
          ("UK", ["Singapore", "Australia", "South Korea", "Spain", "Germany", "Netherlands", "Poland", "Greece"]),
          ("Japan", ["Singapore", "Netherlands", "Germany", "South Korea", "Poland"]),
          ("Spain", ["Norway", "Netherlands", "Japan"]),
          ("Slovenia", ["Norway", "Netherlands"]),
          ("Germany", ["Norway", "Greece", "Poland", "Singapore", "Australia"]),
          ("USA", ["Singapore", "Greece", "Poland", "Norway"]),
          ("Netherlands", ["Greece", "Poland", "Singapore", "Norway"]),
          ("Singapore", ["Greece", "Poland", "Australia", "Canada"]),
          ("Canada", ["Singapore", "Poland", "Japan", "Belgium", "Spain", "Germany", "Greece"]),
          ("Poland", ["Greece"])]

# ---- panel d data (map coordinates): x, y, node width per cluster
d_red = [(580,52,28),(553,232,26),(647,234,38),(638,450,30),(571,708,40),(522,755,36),(606,770,42),(655,775,40),(718,797,38),(568,817,34),(654,832,60),(307,765,30),(378,787,58),(325,842,28),(155,870,30),(301,912,30),(374,904,30),(521,936,34),(602,920,78),(652,924,24),(555,885,24),(273,986,32),(340,1002,28),(448,985,28),(584,987,88),(632,983,66),(428,1083,32),(368,1143,28),(492,1108,28),(541,1080,36),(580,1112,50),(403,1247,28),(454,1290,28)]
d_yellow = [(450,485,42),(538,478,38),(574,527,46),(486,571,28),(288,502,36),(233,595,24),(411,673,42),(634,672,44),(693,678,42),(763,890,56),(727,922,36),(522,1010,32),(722,1010,40),(788,1065,38),(652,1098,90),(643,1175,42),(584,1212,32),(644,1262,26),(733,1335,28),(823,1320,26),(541,1333,26),(982,918,30),(962,1040,26),(1135,975,32),(955,1130,30),(1164,1167,26)]
d_blue = [(810,381,28),(883,472,32),(795,587,30),(746,611,30),(836,637,26),(931,609,32),(931,686,28),(1007,717,26),(868,738,32),(798,758,50),(782,834,44),(837,850,40),(911,825,46),(808,905,80),(868,894,26),(1020,786,26),(1090,712,46),(1127,594,50),(1192,607,26),(1151,468,30),(1272,514,26),(1307,595,40),(1356,655,54),(1323,725,32),(1158,760,34),(1185,812,40),(1185,998,28),(1353,1060,26)]
d_green = [(835,983,150),(1002,652,26),(1165,696,26),(1073,835,58),(968,857,78),(1220,887,28),(1074,913,36),(910,920,44),(936,985,64),(687,1022,58),(880,1015,32),(1071,1027,28),(914,1072,44),(715,1068,28),(1018,1096,36),(1113,1092,34),(757,1125,26),(865,1152,28),(801,1158,44),(717,1177,26),(906,1184,54),(1057,1208,32),(995,1233,30),(705,1250,32),(760,1258,38),(815,1243,38),(888,1280,44),(928,1340,30),(639,1372,26),(915,1430,26)]
d_hubs = [(0,[1,2]),(1,[2,3]),(3,[6,10]),(12,[11,13,14,15,16,21,22,23,18,24,25]),(14,[11,13,15,21,22,16]),
          (21,[15,22,24,25,16,13,11]),(24,[18,25,17,10,20,16,23,26,28,30,29,5,4,6,7,8]),(18,[10,25,17,20,19,5,9,4,6,7,8]),
          (10,[6,7,8,9,4,5,25]),(30,[29,28,31,32,26,27]),(32,[31,27,24]),
          (33,[34,35,36,39,40]),(34,[35,36,39]),(35,[36,39,40,41,47]),(37,[38,39]),(38,[39]),(40,[41,47,42]),(42,[47,43,45,46]),
          (47,[48,49,50,51,53,46,44,43,45,55,57,52]),(48,[49,50,53]),(50,[53]),(56,[57,58,98]),(57,[58,55,54]),(54,[42,55]),
          (59,[60,61,64,63]),(60,[61,62,63,64]),(61,[62,63]),(64,[65,66]),(65,[66,67,68,75,71]),(66,[75,67,74]),
          (68,[67,69,70,71,72,73,65,74,75]),(72,[69,70,71,73,85]),(75,[76,77,80,81,82,83,84,66,74,89]),(76,[77,78,79,80,81,82]),
          (79,[77,80,81,78]),(80,[81,82,77]),(81,[82,83,84]),(83,[84]),(85,[84,71]),(78,[75]),
          (87,[90,91,93,94,95,96,97,98,99,100,101,102,103,104,105,106,107,108,109,110,111,112,113,92,114,88,89]),
          (91,[90,93,94,95,88,92,89]),(90,[92,93,102,89]),(93,[98,102,108]),(107,[104,105,108,109,110,111,112,113,114,116,102]),
          (113,[114,112,111,116,109,115]),(114,[116]),(115,[105,110,111]),(101,[102,108,109]),
          (47,[87,96]),(42,[87]),(68,[87,91]),(24,[87,47]),(18,[47,87]),(10,[42]),(25,[87]),(8,[68,69]),(30,[47]),(72,[87]),
          (3,[40]),(35,[4]),(39,[4,5]),(4,[40]),(41,[68])]
d_strong = [(2,3,4),(85,86,4),(76,81,4),(76,80,4),(12,18,3.5),(12,24,3.5),(21,24,3.5)]
d_flip = [(1,3),(2,3),(1,2)]
d_labels = ["univ messina", "univ cattolica sacro cuore", "komazawa univ", "univ bologna", "komagome hosp", "yonsei univ",
            "heidelberg univ", "cha univ", "peking univ", "aichi canc ctr hosp", "univ hosp heidelberg", "univ utrecht",
            "univ heidelberg hosp", "seoul natl univ hosp", "massachusetts gen hosp", "univ hosp freiburg", "univ lubeck",
            "mayo clin scottsdale", "univ calif los angeles", "univ med ctr utrecht", "thomas jefferson univ", "univ toronto",
            "nordland hosp", "univ tromso", "mem sloan kettering canc ctr", "austin hlth", "inst canc res", "univ british columbia",
            "yale univ", "univ ottawa", "montefiore med ctr", "univ calgary", "univ no british columbia"]
d_label_x = [582, 645, 807, 635, 884, 451, 1271, 486, 231, 746, 1133, 1001, 1347, 697, 800, 1159, 373, 155, 504, 971, 450, 835, 1183, 1353, 661, 1116, 1166, 910, 584, 890, 541, 926, 912]
d_label_y = [51, 233, 380, 450, 471, 484, 514, 570, 594, 612, 594, 652, 655, 678, 760, 760, 786, 870, 870, 855, 980, 985, 998, 1059, 1099, 1092, 1166, 1185, 1212, 1281, 1333, 1336, 1431]
d_label_font = [22, 22.7, 23.7, 22, 26, 26.2, 21.5, 22, 22.6, 21, 26.2, 22, 27.3, 23.6, 26.2, 23, 27.3, 21.6, 22, 28.8, 23.7, 46, 22.6, 23, 33.6, 23, 21, 25.7, 21.5, 24, 22, 22, 22]


def dom_x(a, b):
    return [a / W, b / W]


def dom_y(a, b):
    return [1 - b / H, 1 - a / H]


def rgb(hex_col):
    return np.array([int(hex_col[i:i + 2], 16) for i in (1, 3, 5)], dtype=float)


def link_colour(c1, c2, alpha):
    # links between clusters take the mix of both colours, a bit lighter than the nodes
    m = (rgb(c1) + rgb(c2)) / 2 * 0.85 + 255 * 0.15
    return "rgba(%d,%d,%d,%.2f)" % (m[0], m[1], m[2], alpha)


def curve(p, q, centre, bulge=0.17, flip=False):
    p, q = np.array(p, float), np.array(q, float)
    mid = (p + q) / 2
    d = q - p
    n = np.array([-d[1], d[0]])
    if np.dot(n, mid - centre) < 0:
        n = -n
    if flip:
        n = -n
    ctrl = mid + n * bulge
    t = np.linspace(0, 1, 14)
    pts = [(1 - s) ** 2 * p + 2 * s * (1 - s) * ctrl + s ** 2 * q for s in t]
    return [a[0] for a in pts], [a[1] for a in pts]


def add_links(fig, links, axes):
    # one trace per colour and width, paths split with None
    groups = {}
    for xs, ys, col, width in links:
        g = groups.setdefault((col, width), ([], []))
        g[0].extend(xs + [None])
        g[1].extend(ys + [None])
    for (col, width), (xs, ys) in groups.items():
        fig.add_trace(go.Scatter(x=xs, y=ys, mode="lines", line=dict(color=col, width=width),
                                 hoverinfo="skip", showlegend=False, xaxis=axes[0], yaxis=axes[1]))


fig = go.Figure()

# panel a
for name, vals, col in area_series:
    fig.add_trace(go.Scatter(x=years, y=vals, name=name, mode="lines", stackgroup="one", fillcolor=col,
                             line=dict(color="white", width=1.6), showlegend=False))

# panel b
for col, (ox, oy, s), pts in map_shapes:
    closed = pts + pts[:1]
    fig.add_trace(go.Scatter(x=[ox + p[0] * s for p in closed], y=[oy + p[1] * s for p in closed], mode="lines", fill="toself",
                             fillcolor=col, line=dict(color="white", width=1.3, shape="spline", smoothing=0.4),
                             hoverinfo="skip", showlegend=False, xaxis="x2", yaxis="y2"))
fig.add_trace(go.Heatmap(z=[legend_values], x0=157 + 443 / 32, dx=443 / 16, y0=1864, dy=36, showscale=False, zsmooth=False,
                         zmin=1, zmax=100, hoverinfo="skip", xaxis="x2", yaxis="y2",
                         colorscale=[[0, "#ffe100"], [0.87, "#ff6a00"], [0.87, "#ff0000"], [1, "#ff0000"]]))

# panel c
c_idx = {n: i for i, n in enumerate(c_names)}
c_centre = np.array([690, 780])
links = []
for a, partners in c_thin:
    for b in partners:
        i, j = c_idx[a], c_idx[b]
        xs, ys = curve((c_x[i], c_y[i]), (c_x[j], c_y[j]), c_centre)
        links.append((xs, ys, link_colour(c_cluster[i], c_cluster[j], 0.45), 1.6))
for a, b, width in c_strong:
    i, j = c_idx[a], c_idx[b]
    xs, ys = curve((c_x[i], c_y[i]), (c_x[j], c_y[j]), c_centre)
    links.append((xs, ys, link_colour(c_cluster[i], c_cluster[j], 0.55), width))
add_links(fig, links, ("x3", "y3"))
fig.add_trace(go.Scatter(x=c_x, y=c_y, mode="markers", marker=dict(size=c_size, color=c_cluster, line=dict(width=0)),
                         hoverinfo="skip", showlegend=False, xaxis="x3", yaxis="y3"))
fig.add_trace(go.Scatter(x=c_x, y=c_y, mode="text", text=c_names, textposition="middle center",
                         textfont=dict(family="Open Sans", size=c_font, color="#1c1c1c"), hoverinfo="skip",
                         showlegend=False, xaxis="x3", yaxis="y3"))

# panel d
d_nodes = [(n, RED) for n in d_red] + [(n, YELLOW) for n in d_yellow] + [(n, BLUE) for n in d_blue] + [(n, GREEN) for n in d_green]
d_centre = np.array([800, 950])
links = []
for a, partners in d_hubs:
    for b in partners:
        (xa, ya, _), ca = d_nodes[a]
        (xb, yb, _), cb = d_nodes[b]
        flip = (min(a, b), max(a, b)) in d_flip
        xs, ys = curve((xa, ya), (xb, yb), d_centre, flip=flip)
        links.append((xs, ys, link_colour(ca, cb, 0.5), 2.1))
for a, b, width in d_strong:
    (xa, ya, _), ca = d_nodes[a]
    (xb, yb, _), cb = d_nodes[b]
    xs, ys = curve((xa, ya), (xb, yb), d_centre, flip=(a, b) in d_flip)
    links.append((xs, ys, link_colour(ca, cb, 0.55), width))
add_links(fig, links, ("x4", "y4"))
for nodes, col in [(d_red, RED), (d_yellow, YELLOW), (d_blue, BLUE), (d_green, GREEN)]:
    fig.add_trace(go.Scatter(x=[n[0] for n in nodes], y=[n[1] for n in nodes], mode="markers",
                             marker=dict(size=[n[2] / 1.3154 for n in nodes], color=col, opacity=0.95, line=dict(width=0)),
                             hoverinfo="skip", showlegend=False, xaxis="x4", yaxis="y4"))
fig.add_trace(go.Scatter(x=d_label_x, y=d_label_y, mode="text", text=d_labels, textposition="middle center",
                         textfont=dict(family="Open Sans", size=d_label_font, color="#1c1c1c"), hoverinfo="skip",
                         showlegend=False, xaxis="x4", yaxis="y4"))

# axis styles
hidden = dict(visible=False, showgrid=False, zeroline=False, fixedrange=True)
ARIAL = "Liberation Sans"
fig.update_layout(
    width=W, height=H, margin=dict(l=0, r=0, t=0, b=0), paper_bgcolor="white", plot_bgcolor="white",
    font=dict(family=ARIAL, color="#222"),
    xaxis=dict(domain=dom_x(166, 2123), range=[1990.36, 2025.63], tick0=1992, dtick=2, showgrid=True, gridcolor="#e2e2e2", gridwidth=1.2,
               minor=dict(dtick=1, showgrid=True, gridcolor="#efefef", gridwidth=1), zeroline=False, ticks="outside", ticklen=1,
               tickcolor="white", tickfont=dict(size=25, color="#2a2a33"), showline=True, linecolor="#8e8e8e", linewidth=2.5, mirror=False,
               title=dict(text="Year", font=dict(size=32, color="#111"), standoff=16), anchor="y"),
    yaxis=dict(domain=dom_y(15, 856), range=[-16, 338.8], tick0=0, dtick=50, showgrid=True, gridcolor="#e2e2e2", gridwidth=1.4,
               minor=dict(dtick=25, showgrid=True, gridcolor="#efefef", gridwidth=1), zeroline=False, ticks="outside", ticklen=10,
               tickcolor="white", tickfont=dict(size=25, color="#2a2a33"), showline=True, linecolor="#a8a8a8", linewidth=1.2,
               title=dict(text="Number", font=dict(size=30, color="#111"), standoff=1), anchor="x"),
    xaxis2=dict(domain=dom_x(0, W), range=[0, W], anchor="y2", **hidden),
    yaxis2=dict(domain=dom_y(950, 2020), range=[2020, 950], anchor="x2", **hidden),
    xaxis3=dict(domain=dom_x(0, 1250), range=[0, 1568], anchor="y3", **hidden),
    yaxis3=dict(domain=dom_y(2050, 3050), range=[1568, 0], anchor="x3", **hidden),
    xaxis4=dict(domain=dom_x(1250, W), range=[0, 1568], anchor="y4", **hidden),
    yaxis4=dict(domain=dom_y(2020, 3050), range=[1568, 0], anchor="x4", **hidden),
)

shapes = []
annots = []


def page_line(x0, y0, x1, y1, col, width=1.5):
    shapes.append(dict(type="line", xref="paper", yref="paper", x0=x0 / W, x1=x1 / W, y0=1 - y0 / H, y1=1 - y1 / H,
                       line=dict(color=col, width=width)))


def page_text(x, y, text, size, family=ARIAL, anchor="left", col="#111"):
    annots.append(dict(xref="paper", yref="paper", x=x / W, y=1 - y / H, text=text, showarrow=False, xanchor=anchor, yanchor="middle",
                       font=dict(family=family, size=size, color=col), borderpad=0))


# frame of panel a, right and top sides
page_line(166, 15, 2123, 15, "#b0b0b0", 1.2)
page_line(2123, 15, 2123, 856, "#a0a0a0", 1.5)
# legend of panel a
page_text(2168, 175, "Country", 28.5)
for k, (name, vals, col) in enumerate(reversed(area_series)):
    top = 206 + 51 * k
    shapes.append(dict(type="rect", xref="paper", yref="paper", x0=2168 / W, x1=2212 / W, y0=1 - top / H, y1=1 - (top + 47) / H,
                       fillcolor=col, line=dict(width=0)))
    page_text(2230, top + 25, name, 24.3)
# frame of panel b
page_line(68, 957, 2283, 957, "#d4d4d4")
page_line(68, 957, 68, 2062, "#d4d4d4")
page_line(68, 2062, 1258, 2062, "#d4d4d4")
page_line(2283, 957, 2283, 1962, "#c4c4c4")
page_line(2283, 1064, 2440, 1064, "#ececec")
page_line(170, 953, 2120, 953, "#e8e8e8")
# map legend
page_text(157, 1802, "<b>Number of Publication</b>", 34, family="DejaVu Sans", col="#111")
page_text(157, 1934, "1", 28, family="DejaVu Sans", col="#222")
page_text(598, 1934, "≥100", 32, family="DejaVu Sans", anchor="right", col="#222")
# panel letters
page_text(28, 67, "a", 116, col="#000")
page_text(33, 1040, "b", 126, col="#000")
page_text(46, 2110, "<b>c</b>", 122, col="#000")
page_text(1283, 2132, "d", 122, col="#000")

fig.update_layout(shapes=shapes, annotations=annots)
# the page body has a default margin, drop it so the figure starts at the window corner
fig.write_html("out.html", config={"displayModeBar": False}, post_script="document.body.style.margin='0';")
